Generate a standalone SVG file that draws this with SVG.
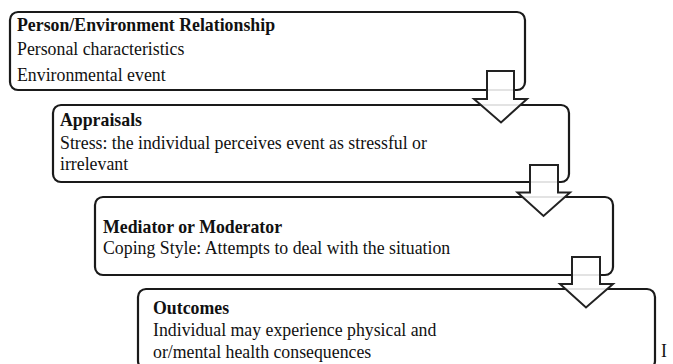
<svg xmlns="http://www.w3.org/2000/svg" width="673" height="364" viewBox="0 0 673 364">
<style>
.box{fill:#fff;stroke:#1a1a1a;stroke-width:2.2}
.arr{fill:#fff;fill-opacity:0.88;stroke:#222;stroke-width:2}
text{font-family:"Liberation Serif","Times New Roman",serif;font-size:17.8px;fill:#111}
.t{font-weight:bold}
</style>
<rect width="673" height="364" fill="#fff"/>
<g id="node-person">
<rect class="box" x="10" y="12" width="515" height="78" rx="8"/>
<text class="t" x="17" y="31">Person/Environment Relationship</text>
<text x="17" y="55">Personal characteristics</text>
<text x="17" y="81">Environmental event</text>
</g>
<g id="node-appraisals">
<rect class="box" x="53" y="105" width="516" height="77" rx="8"/>
<text class="t" x="60" y="126">Appraisals</text>
<text x="60" y="149">Stress: the individual  perceives event as stressful or</text>
<text x="60" y="170">irrelevant</text>
</g>
<g id="node-mediator">
<rect class="box" x="95" y="197" width="518" height="78" rx="8"/>
<text class="t" x="103" y="233">Mediator or Moderator</text>
<text x="103" y="254">Coping Style: Attempts to deal with the situation</text>
</g>
<g id="node-outcomes">
<rect class="box" x="138" y="289" width="517" height="80" rx="8"/>
<text class="t" x="153" y="314">Outcomes</text>
<text x="153" y="336">Individual may experience physical and</text>
<text x="153" y="358">or/mental health consequences</text>
</g>
<g id="connectors">
<path class="arr" d="M487 71 H514 V99 H527 L501 122.5 L474 99 H487 Z"/>
<path class="arr" d="M530 165 H558 V192.5 H570 L543.5 216 L517.5 192.5 H530 Z"/>
<path class="arr" d="M572 257 H600 V284 H613 L586 307.5 L560 284 H572 Z"/>
</g>
<text x="661" y="357" font-size="15">I</text>
</svg>
